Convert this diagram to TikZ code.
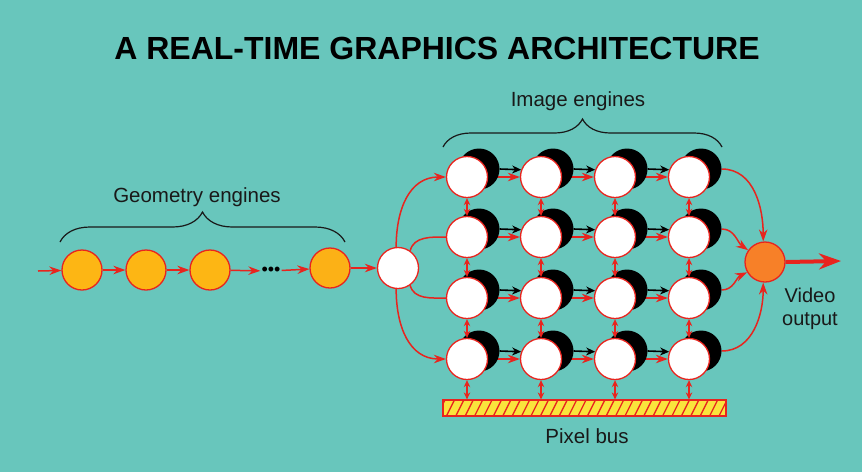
\documentclass[tikz,border=0pt]{standalone}
\usepackage{fontspec}
\setmainfont{Liberation Sans}
\usetikzlibrary{arrows.meta,decorations.pathreplacing,calc}
\definecolor{bgteal}{RGB}{104,198,188}
\definecolor{linered}{RGB}{232,36,30}
\definecolor{geoyel}{RGB}{253,182,20}
\definecolor{outor}{RGB}{247,128,40}
\definecolor{busyel}{RGB}{250,228,60}
\definecolor{txt}{RGB}{25,25,25}
\pgfdeclarelayer{bglayer}
\pgfdeclarelayer{arrlayer}
\pgfdeclarelayer{shlayer}
\pgfsetlayers{bglayer,arrlayer,shlayer,main}
\begin{document}
\begin{tikzpicture}[x=1pt,y=1pt,
  eng/.style={circle,draw=linered,line width=1.3pt,fill=white,minimum size=41pt,inner sep=0pt},
  shad/.style={circle,fill=black,minimum size=41pt,inner sep=0pt},
  geo/.style={circle,draw=linered,line width=1.3pt,fill=geoyel,minimum size=40pt,inner sep=0pt},
  rarr/.style={draw=linered,line width=1.5pt,-{Stealth[length=12pt,width=8.5pt]}},
  barr/.style={draw=black,line width=1.6pt,-{Stealth[length=9pt,width=8pt]}},
  darr/.style={draw=linered,line width=1.3pt,{Stealth[length=7pt,width=6.5pt]}-{Stealth[length=7pt,width=6.5pt]}},
  rline/.style={draw=linered,line width=1.5pt},
  lbl/.style={font=\fontsize{20.5}{23}\selectfont,text=txt},
  mybrace/.style={draw=txt,line width=1.2pt,decorate,decoration={brace,amplitude=#1}}
]
\begin{pgfonlayer}{bglayer}
  \fill[bgteal] (0,0) rectangle (862,-472);
\end{pgfonlayer}
\useasboundingbox (0,0) rectangle (862,-472);

% title
\node[font=\fontsize{32}{36}\selectfont\bfseries,text=black] (title) at (437,-48) {A REAL-TIME GRAPHICS ARCHITECTURE};

% geometry engines
\coordinate (gin) at (38,-271);
\node[geo] (g1) at (82,-270) {};
\node[geo] (g2) at (146,-270) {};
\node[geo] (g3) at (210,-270) {};
\node[font=\fontsize{18}{20}\selectfont,text=black,inner sep=1pt] (dots) at (271,-271) {\textbullet\textbullet\textbullet};
\node[geo,fill=geoyel!90!outor] (g4) at (330,-268) {};
\node[eng] (d) at (398,-268) {};
\draw[rarr] (gin) -- (g1);
\draw[rarr] (g1) -- (g2);
\draw[rarr] (g2) -- (g3);
\draw[rarr] (g3) -- (dots);
\draw[rarr] (dots) -- (g4);
\draw[rarr] (g4) -- (d);

\coordinate (gb1) at (60,-242);
\coordinate (gb2) at (345,-242);
\draw[mybrace=30pt] (gb1) -- (gb2);
\node[lbl] (glab) at (197,-197) {Geometry engines};

% image engines grid
\foreach \r/\y in {1/177,2/237,3/298,4/359}{
  \foreach \c/\x in {1/467,2/541,3/615,4/689}{
    \begin{pgfonlayer}{shlayer}
      \node[shad] (s\r\c) at (\x+12,-\y+8) {};
    \end{pgfonlayer}
    \node[eng] (e\r\c) at (\x,-\y) {};
  }
}
\begin{pgfonlayer}{arrlayer}
\foreach \r in {1,2,3,4}{
  \foreach \c/\n in {1/2,2/3,3/4}{
    \draw[rarr] (e\r\c.east) -- (e\r\n.west);
    \draw[barr] (s\r\c.east) -- (e\r\n.160);
  }
}
\end{pgfonlayer}

% pixel bus and vertical double arrows
\node[draw=linered,line width=1.2pt,fill=busyel,minimum width=283pt,minimum height=16pt,inner sep=0pt,
  path picture={\foreach \i in {0,...,31}{\draw[linered,line width=1.3pt] ($(path picture bounding box.south west)+(\i*9.4-6,0)$) -- ++(8,16);}}]
  (bus) at (584.5,-408) {};
\foreach \c in {1,2,3,4}{
  \draw[darr] (e1\c.south) -- (e2\c.north);
  \draw[darr] (e2\c.south) -- (e3\c.north);
  \draw[darr] (e3\c.south) -- (e4\c.north);
  \draw[darr] (e4\c.south) -- (e4\c.south |- bus.north);
}
\node[lbl] (blab) at (587,-436) {Pixel bus};

\coordinate (ib1) at (443,-147);
\coordinate (ib2) at (722,-147);
\draw[mybrace=28pt] (ib1) -- (ib2);
\node[lbl] (ilab) at (578,-101) {Image engines};

% distributor curves
\begin{pgfonlayer}{arrlayer}
\draw[rarr] (d.95) to[out=90,in=180,looseness=1.1] (e11.west);
\draw[rline] (d.55) to[out=75,in=180] (e21.west);
\draw[rline] (d.-55) to[out=-75,in=180] (e31.west);
\draw[rarr] (d.-95) to[out=-90,in=180,looseness=1.1] (e41.west);
\end{pgfonlayer}

% output
\node[circle,draw=linered,line width=1.3pt,fill=outor,minimum size=40pt,inner sep=0pt] (o) at (765,-262) {};
\begin{pgfonlayer}{arrlayer}
\draw[rarr] (s14.east) to[out=0,in=90] (o.95);
\draw[rarr] (s24.east) to[out=0,in=145] (o.145);
\draw[rarr] (s34.east) to[out=0,in=205] (o.210);
\draw[rarr] (s44.east) to[out=0,in=-90] (o.265);
\end{pgfonlayer}
\coordinate (vout) at (841,-261);
\draw[linered,line width=4pt,-{Stealth[length=22pt,width=16pt]}] (o.east) -- (vout);
\node[lbl,align=center,font=\fontsize{20}{23}\selectfont] (vlab) at (810,-309) {Video\\output};
\end{tikzpicture}
\end{document}
